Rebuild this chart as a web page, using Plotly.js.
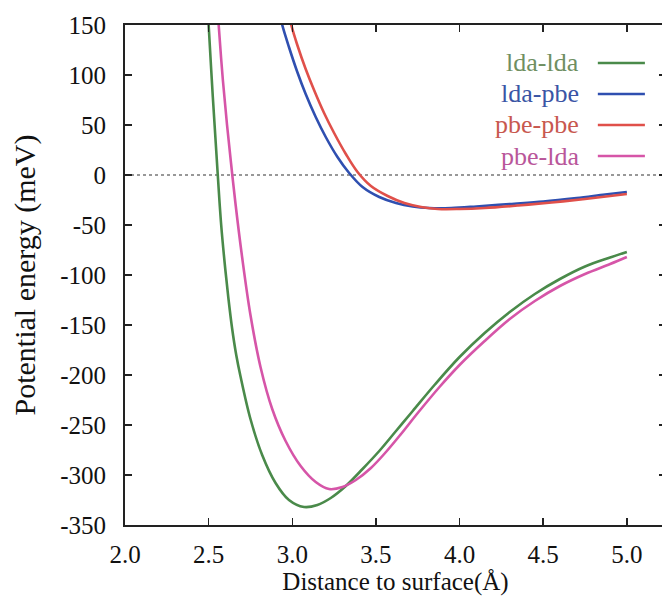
<!DOCTYPE html>
<html>
<head>
<meta charset="utf-8">
<script src="https://cdn.plot.ly/plotly-3.0.1.min.js"></script>
<style>
html, body { margin: 0; padding: 0; overflow: hidden; background: #fff; }
#chart { width: 666px; height: 601px; }
</style>
</head>
<body>
<div id="chart"></div>
<script>
// ---- data ----
var seriesNames = ["lda-lda", "lda-pbe", "pbe-pbe", "pbe-lda"];
var lineColors = ["#4a8a4a", "#2f4fb0", "#e0504a", "#d655a8"];
var textColors = ["#6f8f62", "#3a55a5", "#c8584f", "#b9569a"];

var ldaLdaX = [2.49, 2.50, 2.525, 2.55, 2.575, 2.60, 2.62, 2.64, 2.665, 2.69, 2.75, 2.82, 2.90, 2.98, 3.07, 3.15, 3.23, 3.32, 3.42, 3.52, 3.62, 3.72, 3.85, 4.00, 4.15, 4.30, 4.45, 4.60, 4.75, 4.90, 5.00];
var ldaLdaY = [180, 150, 78, 12, -50, -95, -126, -153, -180, -201, -244, -280, -308, -325, -332, -330, -323, -311, -294, -276, -256, -236, -210, -182, -158, -137, -119, -104, -91.5, -82.5, -77];

var ldaPbeX = [2.93, 2.94, 2.98, 3.03, 3.08, 3.14, 3.20, 3.27, 3.34, 3.42, 3.52, 3.62, 3.72, 3.82, 3.95, 4.10, 4.30, 4.50, 4.70, 4.87, 5.00];
var ldaPbeY = [158, 150, 128, 103, 81, 58, 38, 18, 2, -12, -22, -28, -31.5, -33, -33, -31.5, -29, -26.5, -23, -19.5, -17];

var pbePbeX = [2.985, 2.994, 3.03, 3.08, 3.13, 3.19, 3.25, 3.32, 3.39, 3.47, 3.57, 3.67, 3.77, 3.87, 4.00, 4.15, 4.35, 4.55, 4.75, 4.90, 5.00];
var pbePbeY = [157, 150, 130, 106, 85, 62, 42, 21, 3, -11, -21, -28, -32, -34, -34, -33, -30.5, -27.5, -24, -21, -19];

var pbeLdaX = [2.555, 2.56, 2.585, 2.61, 2.635, 2.66, 2.70, 2.75, 2.81, 2.88, 2.96, 3.05, 3.14, 3.22, 3.30, 3.38, 3.47, 3.56, 3.65, 3.75, 3.88, 4.00, 4.15, 4.30, 4.45, 4.60, 4.75, 4.90, 5.00];
var pbeLdaY = [165, 150, 95, 50, 10, -28, -82, -140, -192, -234, -266, -291, -307, -314, -312, -305, -293, -277, -259, -238, -212, -190, -166, -144, -126, -111, -99, -89, -82];

var xTickVals = [2.0, 2.5, 3.0, 3.5, 4.0, 4.5, 5.0];
var xTickText = ["2.0", "2.5", "3.0", "3.5", "4.0", "4.5", "5.0"];
var yTickVals = [150, 100, 50, 0, -50, -100, -150, -200, -250, -300, -350];
var yTickText = ["150", "100", "50", "0", "-50", "-100", "-150", "-200", "-250", "-300", "-350"];

var xs = [ldaLdaX, ldaPbeX, pbePbeX, pbeLdaX];
var ys = [ldaLdaY, ldaPbeY, pbePbeY, pbeLdaY];

// ---- traces ----
var traces = [];
for (var i = 0; i < seriesNames.length; i++) {
  traces.push({
    x: xs[i], y: ys[i], name: seriesNames[i], type: "scatter", mode: "lines",
    line: { color: lineColors[i], width: 2.6, shape: "spline", smoothing: 1 },
    showlegend: false, hoverinfo: "x+y+name"
  });
}

// ---- legend drawn gnuplot-style (text left, sample right) ----
var annotations = [];
var shapes = [{
  type: "line", xref: "paper", x0: 0, x1: 1, yref: "y", y0: 0, y1: 0,
  line: { color: "#777", width: 1.5, dash: "dot" }, layer: "below"
}];
var legTop = 0.924, legStep = 0.062;
var fontFam = "'Liberation Serif', 'Times New Roman', serif";
for (var j = 0; j < seriesNames.length; j++) {
  var yy = legTop - j * legStep;
  annotations.push({
    xref: "paper", yref: "paper", x: 0.843, y: yy, xanchor: "right", yanchor: "middle",
    text: seriesNames[j], showarrow: false,
    font: { family: fontFam, size: 26, color: textColors[j] }
  });
  shapes.push({
    type: "line", xref: "paper", yref: "paper", x0: 0.874, x1: 0.961, y0: yy, y1: yy,
    line: { color: lineColors[j], width: 2.6 }
  });
}

var layout = {
  width: 666, height: 601,
  margin: { l: 125, r: 0, t: 25, b: 76, pad: 0 },
  paper_bgcolor: "#fff", plot_bgcolor: "#fff",
  font: { family: fontFam, size: 25, color: "#111" },
  xaxis: {
    range: [2.0, 5.234], tickvals: xTickVals, ticktext: xTickText,
    ticks: "inside", ticklen: 7, tickwidth: 1.5, tickcolor: "#222",
    showline: true, linecolor: "#222", linewidth: 2, mirror: "ticks",
    showgrid: false, zeroline: false, ticklabelstandoff: 6,
    tickfont: { family: fontFam, size: 25, color: "#111" },
    title: { text: "Distance to surface(Å)", font: { family: fontFam, size: 25, color: "#111" }, standoff: 4 }
  },
  yaxis: {
    range: [-350, 150], tickvals: yTickVals, ticktext: yTickText,
    ticks: "inside", ticklen: 7, tickwidth: 1.5, tickcolor: "#222",
    showline: true, linecolor: "#222", linewidth: 2, mirror: "ticks",
    showgrid: false, zeroline: false, ticklabelstandoff: 12,
    tickfont: { family: fontFam, size: 25, color: "#111" },
    title: { text: "Potential energy (meV)", font: { family: fontFam, size: 30, color: "#111" }, standoff: 16 }
  },
  annotations: annotations,
  shapes: shapes
};

Plotly.newPlot("chart", traces, layout, { displayModeBar: false, staticPlot: true });
</script>
</body>
</html>
